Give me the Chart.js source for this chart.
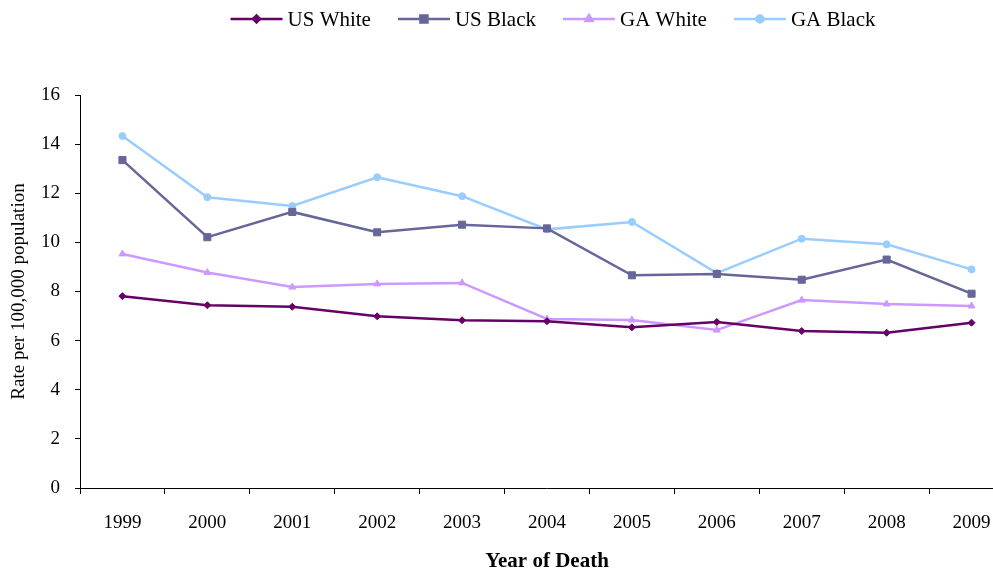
<!DOCTYPE html>
<html>
<head>
<meta charset="utf-8">
<script src="https://cdn.jsdelivr.net/npm/chart.js@4.4.0/dist/chart.umd.min.js"></script>
<style>
  html, body { margin: 0; padding: 0; background: #fff; overflow: hidden; }
  #wrap { position: relative; width: 1020px; height: 572px; }
</style>
</head>
<body>
<div id="wrap"><canvas id="myChart"></canvas></div>
<script>
const years = ['1999', '2000', '2001', '2002', '2003', '2004', '2005', '2006', '2007', '2008', '2009'];
const usWhite = [7.81, 7.44, 7.38, 6.99, 6.83, 6.79, 6.54, 6.76, 6.39, 6.32, 6.73];
const usBlack = [13.35, 10.21, 11.24, 10.41, 10.72, 10.57, 8.66, 8.71, 8.48, 9.30, 7.91];
const gaWhite = [9.53, 8.77, 8.18, 8.31, 8.35, 6.88, 6.84, 6.43, 7.65, 7.49, 7.41];
const gaBlack = [14.33, 11.84, 11.48, 12.65, 11.88, 10.53, 10.83, 8.75, 10.15, 9.92, 8.90];
const yMin = 0, yMax = 16, yStep = 2;

const serif = '"Liberation Serif", "Times New Roman", serif';

const makeSeries = (label, data, color, style, radius) => ({
    label: label,
    data: data,
    borderColor: color,
    backgroundColor: color,
    borderWidth: 2.5,
    pointStyle: style,
    pointRadius: radius,
    pointHoverRadius: radius,
    pointBorderWidth: 1,
    tension: 0
});

// legend drawn by hand: a short line with the marker, like the original
const lineLegend = {
    id: 'lineLegend',
    afterDraw(chart) {
        const ctx = chart.ctx;
        const lineLen = 52, gap = 5, spacing = 27, centerX = 553, y = 19;
        ctx.save();
        ctx.font = '21px ' + serif;
        ctx.textBaseline = 'middle';
        const items = chart.data.datasets.map(ds => ({
            ds: ds,
            w: lineLen + gap + ctx.measureText(ds.label).width
        }));
        const total = items.reduce((s, it) => s + it.w, 0) + spacing * (items.length - 1);
        let x = centerX - total / 2;
        items.forEach(({ds, w}) => {
            ctx.strokeStyle = ds.borderColor;
            ctx.lineWidth = 2.5;
            ctx.beginPath();
            ctx.moveTo(x, y);
            ctx.lineTo(x + lineLen, y);
            ctx.stroke();
            ctx.fillStyle = ds.backgroundColor;
            Chart.helpers.drawPoint(ctx, {
                pointStyle: ds.pointStyle,
                radius: ds.pointRadius,
                borderWidth: 1,
                rotation: 0
            }, x + lineLen / 2, y);
            ctx.fillStyle = '#000';
            ctx.fillText(ds.label, x + lineLen + gap, y + 1);
            x += w + spacing;
        });
        ctx.restore();
    }
};

const renderChart = () => {
    const ctx = document.getElementById('myChart').getContext('2d');
    new Chart(ctx, {
        type: 'line',
        data: {
            labels: years,
            datasets: [
                makeSeries('US White', usWhite, '#660066', 'rectRot', 3.5),
                makeSeries('US Black', usBlack, '#666699', 'rect', 5),
                makeSeries('GA White', gaWhite, '#CC99FF', 'triangle', 4),
                makeSeries('GA Black', gaBlack, '#99CCFF', 'circle', 3.5)
            ]
        },
        options: {
            responsive: true,
            maintainAspectRatio: false,
            animation: false,
            layout: { padding: { top: 95, right: 3, bottom: 0, left: 0 } },
            plugins: {
                legend: { display: false },
                tooltip: { enabled: false }
            },
            scales: {
                x: {
                    offset: true,
                    grid: {
                        offset: true,
                        drawOnChartArea: false,
                        drawTicks: true,
                        tickLength: 6,
                        color: '#000'
                    },
                    border: { display: true, color: '#000', width: 1 },
                    ticks: {
                        color: '#000',
                        padding: 18,
                        maxRotation: 0,
                        font: { family: serif, size: 19 }
                    },
                    title: {
                        display: true,
                        text: 'Year of Death',
                        color: '#000',
                        padding: { top: -4, bottom: -2 },
                        font: { family: serif, size: 21, weight: 'bold' }
                    }
                },
                y: {
                    min: yMin,
                    max: yMax,
                    afterFit: (scale) => { scale.width = 80; },
                    grid: {
                        drawOnChartArea: false,
                        drawTicks: true,
                        tickLength: 5,
                        color: '#000'
                    },
                    border: { display: true, color: '#000', width: 1 },
                    ticks: {
                        stepSize: yStep,
                        color: '#000',
                        padding: 15,
                        font: { family: serif, size: 19 }
                    },
                    title: {
                        display: true,
                        text: 'Rate per 100,000 population',
                        color: '#000',
                        padding: { top: 8, bottom: 4 },
                        font: { family: serif, size: 19 }
                    }
                }
            }
        },
        plugins: [lineLegend]
    });
};

renderChart();
</script>
</body>
</html>
